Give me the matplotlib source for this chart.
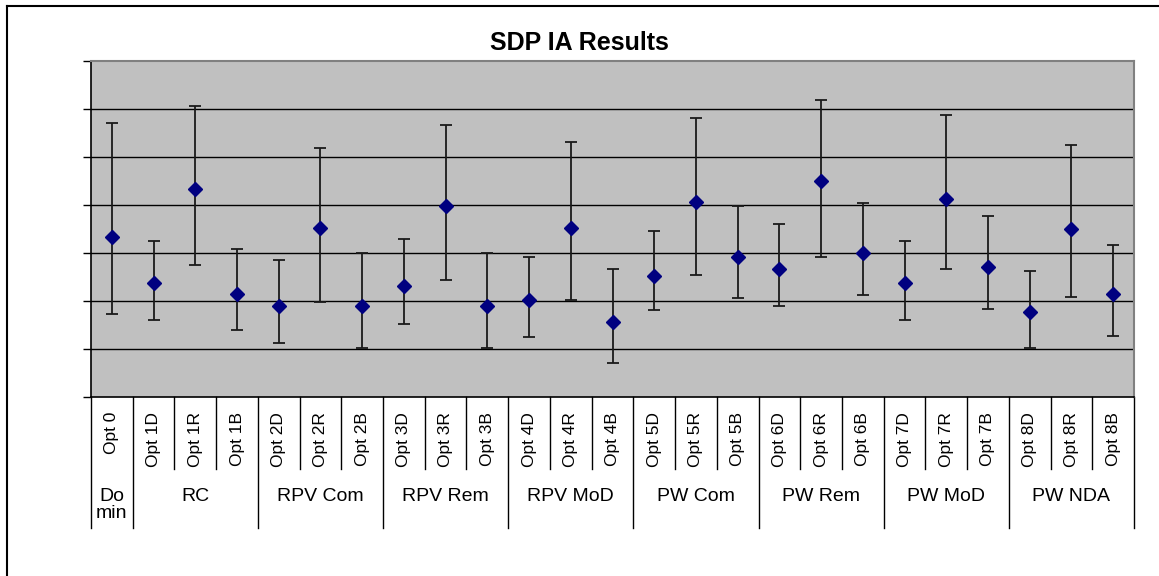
import matplotlib.pyplot as plt
from matplotlib.lines import Line2D

plt.rcParams['font.family'] = ['Liberation Sans', 'DejaVu Sans']

# Data (arbitrary units, gridlines every 1)
options = ['Opt 0', 'Opt 1D', 'Opt 1R', 'Opt 1B', 'Opt 2D', 'Opt 2R', 'Opt 2B',
           'Opt 3D', 'Opt 3R', 'Opt 3B', 'Opt 4D', 'Opt 4R', 'Opt 4B',
           'Opt 5D', 'Opt 5R', 'Opt 5B', 'Opt 6D', 'Opt 6R', 'Opt 6B',
           'Opt 7D', 'Opt 7R', 'Opt 7B', 'Opt 8D', 'Opt 8R', 'Opt 8B']
mean = [3.34, 2.37, 4.33, 2.15, 1.90, 3.53, 1.90, 2.32, 3.97, 1.90, 2.03, 3.53, 1.56,
        2.53, 4.07, 2.92, 2.66, 4.49, 3.00, 2.37, 4.12, 2.71, 1.78, 3.49, 2.15]
low = [1.73, 1.60, 2.75, 1.39, 1.12, 1.97, 1.02, 1.53, 2.44, 1.02, 1.25, 2.02, 0.71,
       1.81, 2.55, 2.06, 1.90, 2.92, 2.12, 1.61, 2.66, 1.83, 1.03, 2.08, 1.28]
high = [5.70, 3.26, 6.06, 3.09, 2.85, 5.19, 2.99, 3.29, 5.67, 3.01, 2.92, 5.31, 2.67,
        3.46, 5.82, 3.98, 3.60, 6.18, 4.04, 3.24, 5.87, 3.78, 2.63, 5.26, 3.17]

groups = ['Do\nmin', 'RC', 'RPV Com', 'RPV Rem', 'RPV MoD',
          'PW Com', 'PW Rem', 'PW MoD', 'PW NDA']
group_sizes = [1, 3, 3, 3, 3, 3, 3, 3, 3]

W, H = 1159, 576
fig = plt.figure(figsize=(W / 100, H / 100), dpi=100)
ax = fig.add_axes([91 / W, 1 - 397 / H, (1134 - 91) / W, 336 / H])
ax.set_facecolor('#C0C0C0')

x = [i + 0.5 for i in range(len(options))]
yerr = [[m - l for m, l in zip(mean, low)], [h - m for m, h in zip(mean, high)]]
ax.errorbar(x, mean, yerr=yerr, fmt='D', color='#000080', ms=7.5,
            ecolor='#1a1a1a', elinewidth=1.3, capsize=4, capthick=1.3, zorder=3)

ax.set_xlim(0, len(options))
ax.set_ylim(0, 7)
ax.set_yticks(range(8))
ax.set_yticklabels([])
ax.set_xticks([])
for g in range(1, 7):
    ax.axhline(g, color='black', lw=1, zorder=1)

ax.tick_params(axis='y', direction='out', length=6, width=1, color='black')
for s in ['top', 'right']:
    ax.spines[s].set_color('#808080')
    ax.spines[s].set_linewidth(1.5)
for s in ['left', 'bottom']:
    ax.spines[s].set_color('black')
    ax.spines[s].set_linewidth(1.2)

# category labels and dividers below the axis
tr = ax.get_xaxis_transform()
for i, lab in enumerate(options):
    ax.text(i + 0.5, -0.045, lab, rotation=90, ha='center', va='top',
            fontsize=12.5, transform=tr)
bounds = [0]
for n in group_sizes:
    bounds.append(bounds[-1] + n)
for b in range(len(options) + 1):
    ybot = -0.39 if b in bounds else -0.214
    ax.plot([b, b], [0, ybot], color='black', lw=1, transform=tr, clip_on=False)
for g, lab in enumerate(groups):
    xc = (bounds[g] + bounds[g + 1]) / 2
    ax.text(xc, -0.27, lab, ha='center', va='top', fontsize=14,
            linespacing=1.0, transform=tr)

fig.suptitle('SDP IA Results', x=0.5, y=1 - 43 / H, fontsize=18,
             fontweight='bold', va='center')

# outer chart frame
fig.add_artist(Line2D([7 / W, 7 / W], [0, 1 - 6 / H], color='black', lw=1.5))
fig.add_artist(Line2D([7 / W, 1], [1 - 6 / H, 1 - 6 / H], color='black', lw=1.5))

fig.savefig('out.png', dpi=100)
